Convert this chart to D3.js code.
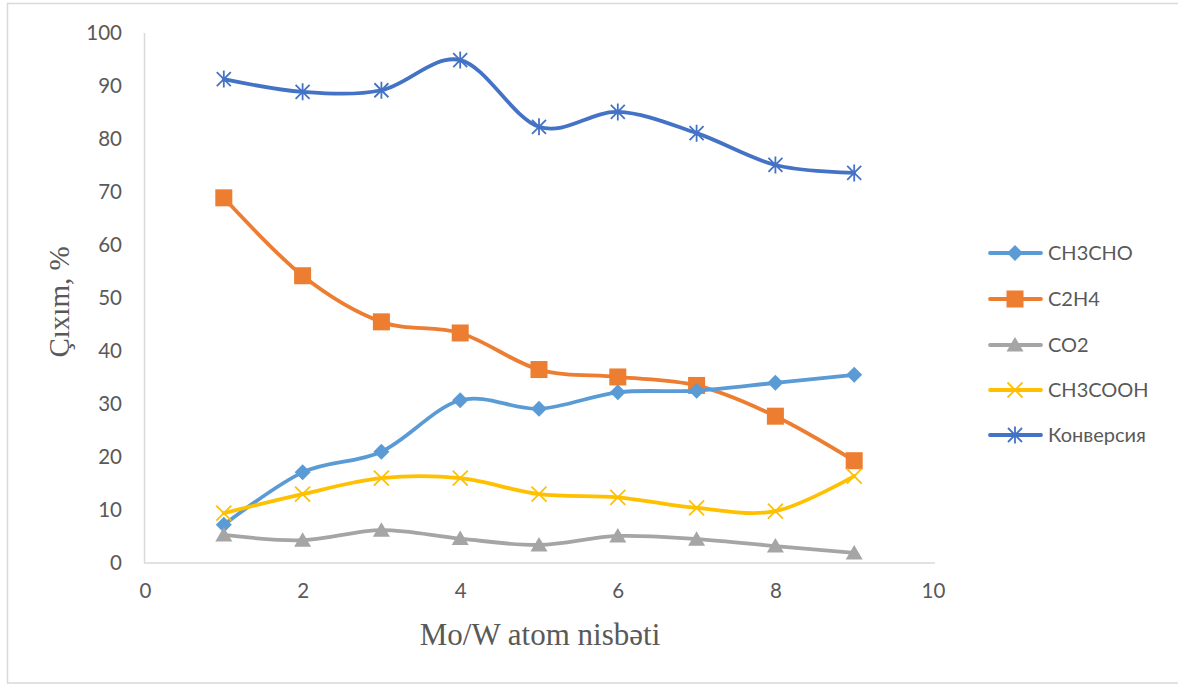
<!DOCTYPE html>
<html><head><meta charset="utf-8">
<script src="https://cdn.jsdelivr.net/npm/d3@7"></script>
<style>html,body{margin:0;padding:0;background:#fff;}</style>
</head><body>
<svg id="c" width="1178" height="685"></svg>
<script>
const xValues = [1, 2, 3, 4, 5, 6, 7, 8, 9];
const ch3cho = [7.2, 17.1, 21.0, 30.7, 29.1, 32.2, 32.5, 34.0, 35.5];
const c2h4 = [68.9, 54.2, 45.5, 43.4, 36.5, 35.1, 33.5, 27.7, 19.3];
const co2 = [5.3, 4.3, 6.2, 4.6, 3.4, 5.1, 4.5, 3.2, 1.9];
const ch3cooh = [9.4, 13.0, 16.0, 16.0, 13.0, 12.4, 10.4, 9.8, 16.4];
const konversiya = [91.3, 88.9, 89.2, 94.9, 82.3, 85.1, 81.1, 75.1, 73.6];
const xTicks = [0, 2, 4, 6, 8, 10];
const yTicks = [0, 10, 20, 30, 40, 50, 60, 70, 80, 90, 100];

const series = [
  {name: "CH3CHO", values: ch3cho, color: "#5B9BD5", marker: "diamond"},
  {name: "C2H4", values: c2h4, color: "#ED7D31", marker: "square"},
  {name: "CO2", values: co2, color: "#A5A5A5", marker: "triangle"},
  {name: "CH3COOH", values: ch3cooh, color: "#FFC000", marker: "x"},
  {name: "Конверсия", values: konversiya, color: "#4472C4", marker: "star"}
];
const drawOrder = [1, 0, 2, 3, 4];

const svg = d3.select("#c");
svg.append("rect").attr("x", 7.5).attr("y", 3.5).attr("width", 1180).attr("height", 679.5)
  .attr("fill", "#fff").attr("stroke", "#d9d9d9").attr("stroke-width", 1.5);

const x = d3.scaleLinear().domain([0, 10]).range([145, 933]);
const y = d3.scaleLinear().domain([0, 100]).range([563, 33]);

svg.append("line").attr("x1", 144.5).attr("x2", 144.5).attr("y1", 33).attr("y2", 563)
  .attr("stroke", "#d9d9d9").attr("stroke-width", 1.5);
svg.append("line").attr("x1", 144).attr("x2", 935).attr("y1", 563).attr("y2", 563)
  .attr("stroke", "#d9d9d9").attr("stroke-width", 1.5);

const yAxis = d3.axisLeft(y).tickValues(yTicks).tickSize(0).tickPadding(22);
const gy = svg.append("g").attr("transform", "translate(144,0)").call(yAxis);
gy.select(".domain").remove();
gy.selectAll("text").attr("fill", "#595959").style("font-family", "Lato, 'Open Sans', sans-serif").style("font-size", "20.5px");

const xAxis = d3.axisBottom(x).tickValues(xTicks).tickSize(0).tickPadding(20);
const gx = svg.append("g").attr("transform", "translate(0,563)").call(xAxis);
gx.select(".domain").remove();
gx.selectAll("text").attr("fill", "#595959").style("font-family", "Lato, 'Open Sans', sans-serif").style("font-size", "20.5px");

svg.append("text").attr("x", 540).attr("y", 645).attr("text-anchor", "middle")
  .attr("fill", "#595959").style("font-family", "'Liberation Serif', 'Times New Roman', serif").style("font-size", "31px")
  .text("Mo/W atom nisbəti");
svg.append("text").attr("transform", "translate(69,302) rotate(-90)").attr("text-anchor", "middle")
  .attr("fill", "#595959").style("font-family", "'Liberation Serif', 'Times New Roman', serif").style("font-size", "29px")
  .text("Çıxım, %");

const line = d3.line().curve(d3.curveCatmullRom.alpha(0)).x((d, i) => x(xValues[i])).y(d => y(d));

function drawMarker(g, type, cx, cy, color) {
  if (type === "diamond") {
    g.append("path").attr("d", `M${cx},${cy-8}L${cx+8},${cy}L${cx},${cy+8}L${cx-8},${cy}Z`).attr("fill", color);
  } else if (type === "square") {
    g.append("rect").attr("x", cx-8.5).attr("y", cy-8.5).attr("width", 17).attr("height", 17).attr("fill", color);
  } else if (type === "triangle") {
    g.append("path").attr("d", `M${cx},${cy-8}L${cx+8.5},${cy+6.5}L${cx-8.5},${cy+6.5}Z`).attr("fill", color);
  } else if (type === "x") {
    g.append("path").attr("d", `M${cx-7.5},${cy-7.5}L${cx+7.5},${cy+7.5}M${cx+7.5},${cy-7.5}L${cx-7.5},${cy+7.5}`)
      .attr("stroke", color).attr("stroke-width", 1.8).attr("fill", "none");
  } else if (type === "star") {
    g.append("path").attr("d", `M${cx-7},${cy-7}L${cx+7},${cy+7}M${cx+7},${cy-7}L${cx-7},${cy+7}M${cx},${cy-8.5}L${cx},${cy+8.5}`)
      .attr("stroke", color).attr("stroke-width", 1.8).attr("fill", "none");
  }
}

drawOrder.forEach(k => {
  const s = series[k];
  const g = svg.append("g");
  g.append("path").datum(s.values).attr("d", line).attr("fill", "none")
    .attr("stroke", s.color).attr("stroke-width", 3.8).attr("stroke-linecap", "round").attr("stroke-linejoin", "round");
  s.values.forEach((v, i) => drawMarker(g, s.marker, x(xValues[i]), y(v), s.color));
});

const legendY = [253, 299, 345, 390, 435];
series.forEach((s, i) => {
  const g = svg.append("g");
  const ly = legendY[i];
  g.append("line").attr("x1", 990).attr("x2", 1041).attr("y1", ly).attr("y2", ly)
    .attr("stroke", s.color).attr("stroke-width", 3.8).attr("stroke-linecap", "round");
  drawMarker(g, s.marker, 1015, ly, s.color);
  g.append("text").attr("x", 1048).attr("y", ly).attr("dy", "0.35em")
    .attr("fill", "#595959").style("font-family", "Lato, 'Open Sans', sans-serif").style("font-size", "20px")
    .text(s.name);
});
</script>
</body></html>
